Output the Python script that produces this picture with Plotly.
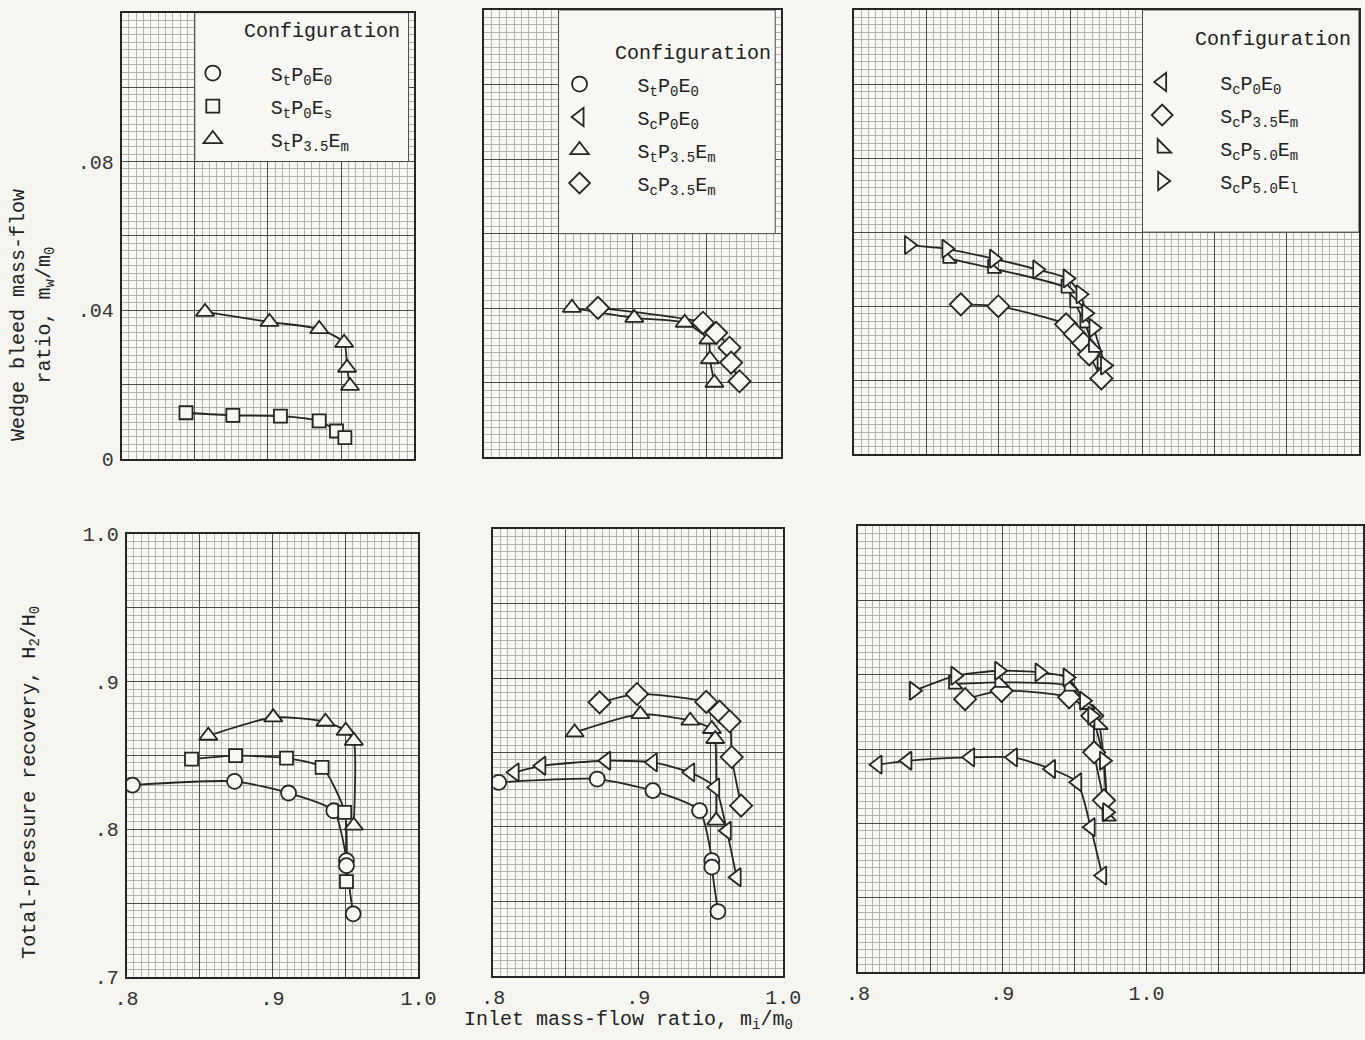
import plotly.graph_objects as go

# Mapping between reference pixels and figure pixels, measured on earlier renders:
# the page keeps an 8 px body margin and the photograph is slightly reduced.
OFF = 8
SCALE = 0.979
SHIFT = 2.5
FW, FH = 1386, 1054
FONT = "Liberation Mono, DejaVu Sans Mono, monospace"
INK = "#262626"
PAPER = "#f6f5f0"
PLOT = "#f8f7f3"
MINOR = "#b3b2ac"
MAJOR = "#4c4b47"

# ---------------- tick lists ----------------
X_TICKS_A = [0.80, 0.85, 0.90, 0.95, 1.00]
X_TEXT_A = [".8", "", ".9", "", "1.0"]
X_TICKS_B = [0.80, 0.85, 0.90, 0.95, 1.00, 1.05, 1.10, 1.15]
X_TEXT_B = [".8", "", ".9", "", "1.0", "", "", ""]
Y_TICKS_TOP = [0.00, 0.02, 0.04, 0.06, 0.08, 0.10, 0.12]
Y_TEXT_TOP = ["0", "", ".04", "", ".08", "", ""]
Y_TICKS_BOT = [0.70, 0.75, 0.80, 0.85, 0.90, 0.95, 1.00]
Y_TEXT_BOT = [".7", "", ".8", "", ".9", "", "1.0"]

# ---------------- configurations ----------------
CONFIG_NAMES = {
    "circ": "S<sub>t</sub>P<sub>0</sub>E<sub>0</sub>",
    "sq": "S<sub>t</sub>P<sub>0</sub>E<sub>s</sub>",
    "tri": "S<sub>t</sub>P<sub>3.5</sub>E<sub>m</sub>",
    "ltri": "S<sub>c</sub>P<sub>0</sub>E<sub>0</sub>",
    "dia": "S<sub>c</sub>P<sub>3.5</sub>E<sub>m</sub>",
    "ctri": "S<sub>c</sub>P<sub>5.0</sub>E<sub>m</sub>",
    "rtri": "S<sub>c</sub>P<sub>5.0</sub>E<sub>l</sub>",
}

# ---------------- data: wedge bleed mass-flow ratio (top row) ----------------
# column 1
TL_SQ_X = [0.844, 0.876, 0.9085, 0.935, 0.9468, 0.9525]
TL_SQ_Y = [0.0125, 0.0118, 0.0116, 0.0103, 0.0076, 0.0058]
TL_TRI_X = [0.857, 0.901, 0.935, 0.952, 0.954, 0.956]
TL_TRI_Y = [0.0396, 0.0369, 0.0350, 0.0313, 0.0246, 0.0197]
# column 2
TM_TRI_X = [0.859, 0.901, 0.935, 0.951, 0.952, 0.955]
TM_TRI_Y = [0.0401, 0.0374, 0.0361, 0.0316, 0.0263, 0.0200]
TM_DIA_X = [0.8766, 0.9473, 0.9562, 0.9652, 0.9663, 0.9719]
TM_DIA_Y = [0.0401, 0.0361, 0.0334, 0.0294, 0.0254, 0.0204]
# column 3
TR_RTRI_X = [0.838, 0.864, 0.897, 0.927, 0.948, 0.957, 0.961, 0.966, 0.974]
TR_RTRI_Y = [0.0565, 0.0555, 0.0528, 0.0499, 0.0475, 0.0432, 0.0381, 0.0341, 0.0240]
TR_CTRI_X = [0.865, 0.896, 0.947, 0.953, 0.960, 0.966, 0.972]
TR_CTRI_Y = [0.0529, 0.0502, 0.0449, 0.0409, 0.0355, 0.0289, 0.0245]
TR_DIA_X = [0.874, 0.900, 0.947, 0.953, 0.959, 0.963, 0.9715]
TR_DIA_Y = [0.0405, 0.0400, 0.0351, 0.0325, 0.0300, 0.0270, 0.0205]

# ---------------- data: total-pressure recovery (bottom row) ----------------
# column 1
BL_CIRC_X = [0.804, 0.874, 0.911, 0.942, 0.9507, 0.9507, 0.9553]
BL_CIRC_Y = [0.830, 0.8325, 0.8246, 0.8126, 0.7788, 0.7754, 0.7427]
BL_SQ_X = [0.8445, 0.8747, 0.9096, 0.934, 0.9495, 0.9507]
BL_SQ_Y = [0.8476, 0.8499, 0.8483, 0.842, 0.8115, 0.7646]
BL_TRI_X = [0.856, 0.9005, 0.9363, 0.9502, 0.9557, 0.9557]
BL_TRI_Y = [0.8634, 0.8759, 0.8729, 0.8668, 0.860, 0.8025]
# column 2
BM_CIRC_X = [0.8037, 0.8717, 0.9101, 0.9423, 0.9508, 0.9508, 0.955]
BM_CIRC_Y = [0.830, 0.8322, 0.8244, 0.811, 0.7774, 0.773, 0.7432]
BM_LTRI_X = [0.8147, 0.8331, 0.8779, 0.9101, 0.9359, 0.9531, 0.9611, 0.9679]
BM_LTRI_Y = [0.8367, 0.8411, 0.8445, 0.8434, 0.8367, 0.8266, 0.7975, 0.7662]
BM_TRI_X = [0.8561, 0.9014, 0.9359, 0.9508, 0.9531, 0.9538]
BM_TRI_Y = [0.8635, 0.8758, 0.8714, 0.8658, 0.8591, 0.8043]
BM_DIA_X = [0.8733, 0.8991, 0.9469, 0.9561, 0.963, 0.9645, 0.971]
BM_DIA_Y = [0.8837, 0.8893, 0.8840, 0.8775, 0.8710, 0.8470, 0.8143]
# column 3
BR_LTRI_X = [0.8135, 0.8342, 0.8777, 0.9074, 0.9338, 0.952, 0.9613, 0.9693]
BR_LTRI_Y = [0.8395, 0.8421, 0.8444, 0.8444, 0.8366, 0.8276, 0.7973, 0.7648]
BR_RTRI_X = [0.8387, 0.8674, 0.8978, 0.9258, 0.9452, 0.9567, 0.9624, 0.9705, 0.9727]
BR_RTRI_Y = [0.8892, 0.8993, 0.9027, 0.9016, 0.8982, 0.8825, 0.8724, 0.8421, 0.8074]
BR_CTRI_X = [0.8662, 0.8983, 0.9464, 0.9579, 0.967, 0.9727]
BR_CTRI_Y = [0.8937, 0.8949, 0.8924, 0.8800, 0.8665, 0.8049]
BR_DIA_X = [0.8742, 0.8995, 0.9464, 0.9624, 0.9637, 0.9705]
BR_DIA_Y = [0.8836, 0.8892, 0.8848, 0.8724, 0.8478, 0.8155]

SYMBOL = {"circ": "circle", "sq": "square", "tri": "triangle-up",
          "ltri": "triangle-left", "dia": "diamond", "ctri": "triangle-sw",
          "rtri": "triangle-right"}
SIZE = {"circ": 15, "sq": 13, "tri": 16, "ltri": 16, "dia": 17, "ctri": 15, "rtri": 16}
RANK = {"circ": 1, "sq": 2, "tri": 3, "ltri": 2, "dia": 4, "ctri": 5, "rtri": 6}

PANELS = [
    (1, [("sq", TL_SQ_X, TL_SQ_Y, None), ("tri", TL_TRI_X, TL_TRI_Y, None)]),
    (2, [("tri", TM_TRI_X, TM_TRI_Y, None), ("dia", TM_DIA_X, TM_DIA_Y, None)]),
    (3, [("dia", TR_DIA_X, TR_DIA_Y, None), ("ctri", TR_CTRI_X, TR_CTRI_Y, None),
         ("rtri", TR_RTRI_X, TR_RTRI_Y, None)]),
    (4, [("circ", BL_CIRC_X, BL_CIRC_Y, "legend"), ("sq", BL_SQ_X, BL_SQ_Y, "legend"),
         ("tri", BL_TRI_X, BL_TRI_Y, "legend")]),
    (5, [("circ", BM_CIRC_X, BM_CIRC_Y, "legend2"), ("ltri", BM_LTRI_X, BM_LTRI_Y, "legend2"),
         ("tri", BM_TRI_X, BM_TRI_Y, "legend2"), ("dia", BM_DIA_X, BM_DIA_Y, "legend2")]),
    (6, [("ltri", BR_LTRI_X, BR_LTRI_Y, "legend3"), ("dia", BR_DIA_X, BR_DIA_Y, "legend3"),
         ("ctri", BR_CTRI_X, BR_CTRI_Y, "legend3"), ("rtri", BR_RTRI_X, BR_RTRI_Y, "legend3")]),
]

fig = go.Figure()
for idx, series in PANELS:
    xa = "x" if idx == 1 else f"x{idx}"
    ya = "y" if idx == 1 else f"y{idx}"
    for key, xs, ys, leg in series:
        fig.add_trace(go.Scatter(
            x=xs, y=ys, xaxis=xa, yaxis=ya, mode="lines",
            line=dict(color=INK, width=1.8, shape="spline", smoothing=0.6),
            showlegend=False, hoverinfo="skip"))
    for key, xs, ys, leg in series:
        if leg:
            kw = dict(legend=leg, showlegend=True, legendgroup=f"{leg}-{key}",
                      legendrank=RANK[key])
        else:
            kw = dict(showlegend=False)
        fig.add_trace(go.Scatter(
            x=xs, y=ys, xaxis=xa, yaxis=ya, mode="markers",
            name=CONFIG_NAMES[key],
            marker=dict(symbol=SYMBOL[key], size=SIZE[key], color=PLOT,
                        line=dict(color=INK, width=1.8)),
            **kw))


def px(v):
    """reference pixel -> figure pixel"""
    return (v - SHIFT) / SCALE - OFF


def dom_x(a, b):
    return [max(0.0, px(a) / FW), min(1.0, px(b) / FW)]


def dom_y(top, bottom):
    return [max(0.0, 1 - px(bottom) / FH), min(1.0, 1 - px(top) / FH)]


def pos(xr, yr):
    return px(xr) / FW, 1 - px(yr) / FH


def grid_axis(domain, rng, tickvals, ticktext, show, anchor, dtick_minor, tick0):
    return dict(
        domain=domain, range=rng, anchor=anchor,
        tickmode="array", tickvals=tickvals, ticktext=ticktext,
        showticklabels=show, ticks="", ticklabelstandoff=2,
        tickfont=dict(family=FONT, size=20, color="#333333"),
        showgrid=True, gridcolor=MAJOR, gridwidth=1,
        minor=dict(tickmode="linear", tick0=tick0, dtick=dtick_minor,
                   showgrid=True, gridcolor=MINOR, gridwidth=0.6, ticks=""),
        showline=True, linecolor=INK, linewidth=1.8, mirror=True,
        zeroline=False, fixedrange=True,
    )


# panel edges in reference pixels (left, right) and (top, bottom)
X_DOMS = {1: (120, 413), 2: (483, 780), 3: (853, 1358),
          4: (125, 417), 5: (492, 782), 6: (857, 1362)}
Y_DOMS = {1: (13, 460), 2: (10, 458), 3: (5, 455),
          4: (535, 978), 5: (530, 977), 6: (527, 973)}

layout_axes = {}
for idx in range(1, 7):
    xname = "xaxis" if idx == 1 else f"xaxis{idx}"
    yname = "yaxis" if idx == 1 else f"yaxis{idx}"
    xa_anchor = "y" if idx == 1 else f"y{idx}"
    ya_anchor = "x" if idx == 1 else f"x{idx}"
    col3 = idx in (3, 6)
    top = idx <= 3
    layout_axes[xname] = grid_axis(
        dom_x(*X_DOMS[idx]), [0.8, 1.15] if col3 else [0.8, 1.0],
        X_TICKS_B if col3 else X_TICKS_A, X_TEXT_B if col3 else X_TEXT_A,
        not top, xa_anchor, 0.005, 0.8)
    layout_axes[yname] = grid_axis(
        dom_y(*Y_DOMS[idx]), [0, 0.12] if top else [0.7, 1.0],
        Y_TICKS_TOP if top else Y_TICKS_BOT, Y_TEXT_TOP if top else Y_TEXT_BOT,
        idx in (1, 4), ya_anchor, 0.002 if top else 0.005, 0.0 if top else 0.7)

fig.update_layout(**layout_axes)

# legend boxes (white panels on the graph paper)
BOXES = [("x", "y", 0.85, 0.996, 0.08, 0.12),
         ("x2", "y2", 0.85, 0.996, 0.06, 0.12),
         ("x3", "y3", 1.00, 1.15, 0.06, 0.12)]
shapes = []
for xr, yr, x0, x1, y0, y1 in BOXES:
    shapes.append(dict(type="rect", xref=xr, yref=yr, x0=x0, x1=x1, y0=y0, y1=y1,
                       fillcolor=PLOT, line=dict(color="#4a4a4a", width=1),
                       layer="between"))

leg_common = dict(bgcolor="rgba(0,0,0,0)", borderwidth=0,
                  font=dict(family=FONT, size=20, color="#222222"),
                  itemwidth=106, tracegroupgap=4, xanchor="left", yanchor="top",
                  itemclick=False, itemdoubleclick=False)

ann = []
TITLE_POS = [(321, 32), (692, 54), (1272, 40)]
for cx, cy in TITLE_POS:
    ax_, ay_ = pos(cx, cy)
    ann.append(dict(text="Configuration", x=ax_, y=ay_, xref="paper",
                    yref="paper", showarrow=False, xanchor="center", yanchor="middle",
                    font=dict(family=FONT, size=20, color="#222222")))
ax_, ay_ = pos(31, 316)
ann.append(dict(text="Wedge bleed mass-flow<br>ratio, m<sub>w</sub>/m<sub>0</sub>",
                x=ax_, y=ay_, xref="paper", yref="paper", showarrow=False,
                textangle=-90, xanchor="center", yanchor="middle",
                font=dict(family=FONT, size=20, color="#222222")))
ax_, ay_ = pos(28, 783)
ann.append(dict(text="Total-pressure recovery, H<sub>2</sub>/H<sub>0</sub>",
                x=ax_, y=ay_, xref="paper", yref="paper", showarrow=False,
                textangle=-90, xanchor="center", yanchor="middle",
                font=dict(family=FONT, size=20, color="#222222")))
ax_, ay_ = pos(627, 1022)
ann.append(dict(text="Inlet mass-flow ratio, m<sub>i</sub>/m<sub>0</sub>",
                x=ax_, y=ay_, xref="paper", yref="paper", showarrow=False,
                xanchor="center", yanchor="middle",
                font=dict(family=FONT, size=20, color="#222222")))

LEG_POS = {"legend": (210, 73), "legend2": (577, 84), "legend3": (1160, 82)}
legends = {}
for name, (sx, sy) in LEG_POS.items():
    lx = px(sx) - 58
    ly = px(sy) - 19.5
    legends[name] = dict(x=lx / FW, y=1 - ly / FH, **leg_common)

fig.update_layout(
    width=FW, height=FH, margin=dict(l=0, r=0, t=0, b=0),
    paper_bgcolor=PAPER, plot_bgcolor=PLOT,
    font=dict(family=FONT, size=20, color="#222222"),
    shapes=shapes, annotations=ann, hovermode=False,
    **legends,
)

fig.write_html("out.html")
